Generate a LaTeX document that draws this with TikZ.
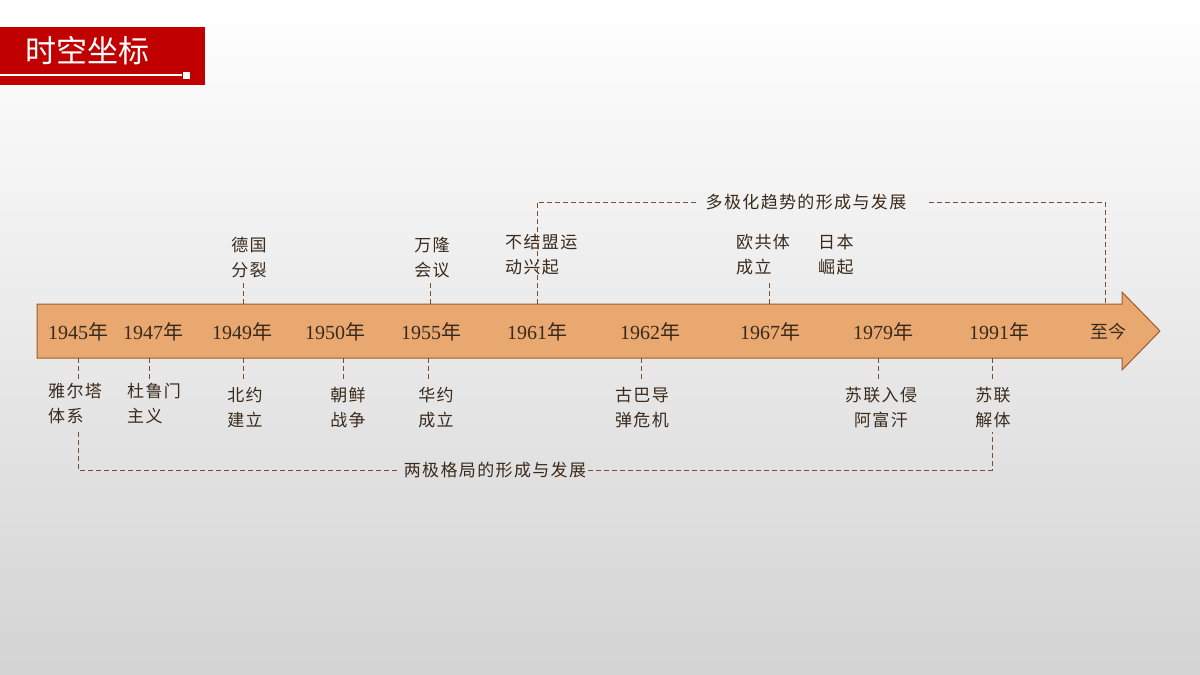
\documentclass[tikz,border=0pt]{standalone}
\usepackage{fontspec}
\setmainfont{Liberation Serif}
\newfontfamily\cjk{Noto Sans CJK SC}
\newfontfamily\cjks[LetterSpace=8]{Noto Sans CJK SC}
\definecolor{bandfill}{HTML}{E9A86F}
\definecolor{banddraw}{HTML}{9A5E2E}
\definecolor{txt}{HTML}{3A2A1C}
\definecolor{dash}{HTML}{7A4E30}
\definecolor{titlered}{HTML}{C00000}
\newcommand{\yr}[1]{#1{\cjk 年}}
\tikzset{
  yl/.style={text=txt,font=\fontsize{20}{20}\selectfont,anchor=center},
  lab/.style={text=txt,font=\cjks\fontsize{17}{25}\selectfont,align=center,inner sep=0pt},
  labl/.style={lab,align=left,anchor=north west},
  dl/.style={draw=dash,dash pattern=on 5pt off 3pt,line width=1pt},
}
\begin{document}
\begin{tikzpicture}[x=1pt,y=-1pt]
\shade[top color=white,bottom color=black!17] (0,0) rectangle (1200,675);
\useasboundingbox (0,0) rectangle (1200,675);
% title
\fill[titlered] (0,27) rectangle (205,85);
\draw[white,line width=1.2pt] (0,75) -- (182,75);
\fill[white] (183,72) rectangle (190,79);
\node[text=white,font=\cjk\fontsize{31}{31}\selectfont,anchor=west] (title) at (22,51) {时空坐标};
% band
\draw[fill=bandfill,draw=banddraw,line width=1pt] (37,304) -- (1122,304) -- (1122,292) -- (1160,331) -- (1122,370) -- (1122,358) -- (37,358) -- cycle;
\foreach \n/\x/\t in {a/78/1945,b/153/1947,c/242/1949,d/335/1950,e/431/1955,f/537/1961,g/650/1962,h/770/1967,i/883/1979,j/999/1991}
  \node[yl] (\n) at (\x,332) {\yr{\t}};
\node[yl,font=\cjk\fontsize{18}{18}\selectfont] (k) at (1108,332) {至今};
% top ticks
\foreach \x in {243,430,537,769} {\coordinate (t\x) at (\x,304); \draw[dl] (t\x) -- ++(0,-22);}
\node[lab] (de) at (249,258) {德国\\分裂};
\node[lab] (wl) at (432,258) {万隆\\会议};
\node[labl] (bj) at (505,234) {不结盟运\\动兴起};
\node[labl] (og) at (736,234) {欧共体\\成立};
\node[labl] (rb) at (818,234) {日本\\崛起};
% bottom ticks
\foreach \x in {78,149,243,343,428,641,878,992} {\coordinate (b\x) at (\x,358); \draw[dl] (b\x) -- ++(0,22);}
\node[labl] (y1) at (48,383) {雅尔塔\\体系};
\node[labl] (y2) at (127,383) {杜鲁门\\主义};
\node[lab] (y3) at (245,408) {北约\\建立};
\node[lab] (y4) at (348,408) {朝鲜\\战争};
\node[lab] (y5) at (436,408) {华约\\成立};
\node[lab] (y6) at (642,408) {古巴导\\弹危机};
\node[lab] (y7) at (881,408) {苏联入侵\\阿富汗};
\node[lab] (y8) at (993,408) {苏联\\解体};
% brackets
\node[lab] (lb) at (495,470) {两极格局的形成与发展};
\draw[dl] (78,432) -- (78,470) -- ([xshift=-4pt]lb.west);
\draw[dl] ([xshift=2pt]lb.east) -- (992,470) -- (992,432);
\node[lab] (lt) at (806,202) {多极化趋势的形成与发展};
\draw[dl] (t537) -- (537,202) -- ([xshift=-10pt]lt.west);
\draw[dl] ([xshift=22pt]lt.east) -- (1105,202) -- (1105,304);
\end{tikzpicture}
\end{document}
